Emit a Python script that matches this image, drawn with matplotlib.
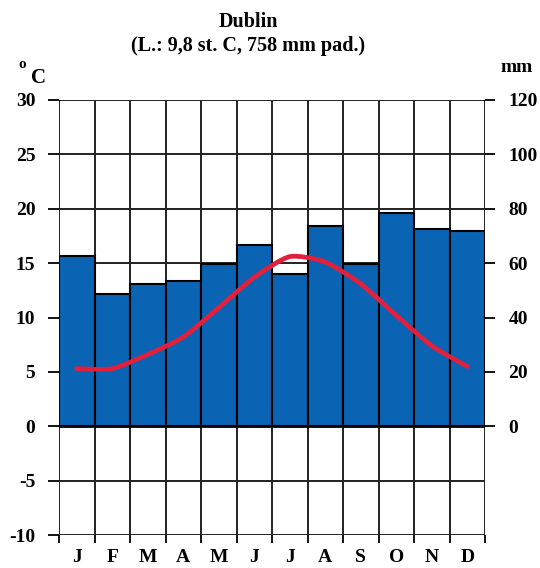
import matplotlib
matplotlib.use("Agg")
import matplotlib.pyplot as plt
from matplotlib.path import Path
from matplotlib.patches import PathPatch
import numpy as np

months = ["J", "F", "M", "A", "M", "J", "J", "A", "S", "O", "N", "D"]
precip_mm = [62.5, 48.5, 52.5, 53.5, 59.5, 66.5, 56, 73.5, 59.5, 78.5, 72.5, 72]
temp_c = [5.3, 5.3, 6.6, 8.2, 10.9, 13.7, 15.6, 15.1, 13.1, 10.2, 7.4, 5.5]
temp_ticks = [-10, -5, 0, 5, 10, 15, 20, 25, 30]
precip_ticks = [0, 20, 40, 60, 80, 100, 120]
title = "Dublin\n(L.: 9,8 st. C, 758 mm pad.)"

plt.rcParams['font.family'] = ['Liberation Serif', 'DejaVu Serif']
plt.rcParams['font.weight'] = 'bold'

FS = 14

fig = plt.figure(figsize=(5.4, 5.68), dpi=100)
ax = fig.add_axes([59/540, 1-535/568, (485-59)/540, 435/568])
ax2 = ax.twinx()

x = np.arange(len(months))
ax2.bar(x, precip_mm, width=1.0, color="#0b63b3", edgecolor="black", linewidth=1.5, zorder=2)
ax2.set_ylim(-40, 120)
ax2.set_yticks(precip_ticks)
ax2.set_yticklabels([str(t) for t in precip_ticks], fontsize=FS, fontweight='bold')
ax2.tick_params(axis='y', length=7, width=1.3, pad=10)

ax.set_ylim(-10, 30)
ax.set_xlim(-0.5, 11.5)
ax.set_yticks(temp_ticks)
ax.set_yticklabels([str(t) for t in temp_ticks], fontsize=FS, fontweight='bold')
ax.tick_params(axis='y', length=8, width=1.3, pad=9)

for t in temp_ticks:
    ax2.axhline(t * 4, color="#222222", lw=1.4, zorder=1)
for b in np.arange(-0.5, 12, 1):
    ax2.axvline(b, color="#222222", lw=1.4, zorder=1)
ax2.axhline(0, color="black", lw=2.0, zorder=3)

# lightly smoothed temperature line (Bezier through the data points)
px = x.astype(float)
py = np.array(temp_c) * 4.0
verts = [(px[0], py[0])]
codes = [Path.MOVETO]
n = len(px)
k = 9.0
for i in range(n - 1):
    p0 = (px[max(i - 1, 0)], py[max(i - 1, 0)])
    p1 = (px[i], py[i])
    p2 = (px[i + 1], py[i + 1])
    p3 = (px[min(i + 2, n - 1)], py[min(i + 2, n - 1)])
    c1 = (p1[0] + (p2[0] - p0[0]) / k, p1[1] + (p2[1] - p0[1]) / k)
    c2 = (p2[0] - (p3[0] - p1[0]) / k, p2[1] - (p3[1] - p1[1]) / k)
    verts += [c1, c2, p2]
    codes += [Path.CURVE4] * 3
ax2.add_patch(PathPatch(Path(verts, codes), facecolor='none', edgecolor="#e0203c",
                        lw=3.4, zorder=4, capstyle='round', joinstyle='round'))

ax.set_xticks(np.arange(-0.5, 12, 1), minor=False)
ax.set_xticklabels([])
ax.tick_params(axis='x', length=6, width=1.3)
ax.set_xticks(x, minor=True)
ax.set_xticklabels(months, minor=True, fontsize=FS, fontweight='bold')
ax.tick_params(axis='x', which='minor', length=0, pad=10)

for a in (ax, ax2):
    for s in a.spines.values():
        s.set_visible(False)

ax.set_zorder(0)
ax2.set_zorder(1)

fig.text(248/540, 1-34/568, title, ha='center', va='center', fontsize=14.5,
         fontweight='bold', linespacing=1.3)
fig.text(22/540, 1-64/568, "o", ha='center', va='center', fontsize=11, fontweight='bold')
fig.text(38/540, 1-78/568, "C", ha='center', va='center', fontsize=15, fontweight='bold')
fig.text(517/540, 1-67/568, "mm", ha='center', va='center', fontsize=FS, fontweight='bold')

fig.savefig("out.png", dpi=100)
